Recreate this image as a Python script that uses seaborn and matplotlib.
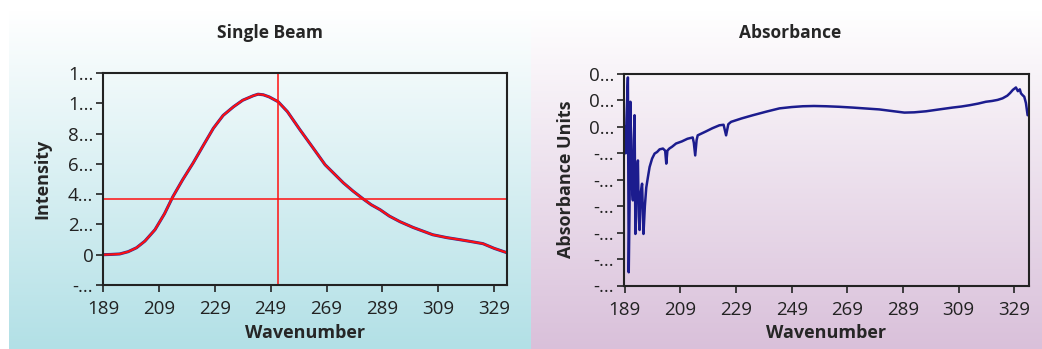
import numpy as np
import matplotlib
matplotlib.use("Agg")
import matplotlib.pyplot as plt
import seaborn as sns

# --- data ---
beam_x = [189, 192, 195, 198, 201, 204, 207.6, 211, 214, 217.5, 221.3, 225, 228.5,
          232, 235.7, 239, 242.8, 244.5, 246.4, 248.5, 251.7, 255, 259.5, 264,
          268.5, 272, 275, 278.5, 282, 285, 288.2, 291.5, 295.3, 300, 307, 312,
          316.8, 321, 325, 329, 333.6]
beam_y = [0, 20, 50, 200, 460, 900, 1650, 2700, 3830, 4950, 6070, 7250, 8350,
          9200, 9770, 10200, 10500, 10600, 10560, 10420, 10100, 9450, 8250, 7100,
          5940, 5300, 4750, 4200, 3700, 3300, 2970, 2550, 2180, 1800, 1320, 1130,
          990, 860, 730, 420, 130]

abs_x = [189.0, 189.3, 189.6, 190.1, 190.4, 190.7, 191.0, 191.4, 191.9, 192.2,
         192.5, 192.8, 193.2, 193.7, 194.0, 194.3, 194.7, 195.2, 195.7, 196.2,
         196.7, 197.3, 197.9, 198.8, 199.7, 200.6, 201.5, 202.7, 203.5, 203.9,
         204.3, 205.0, 206.0, 207.4, 209.5, 211.5, 213.4, 213.8, 214.3, 214.8,
         215.2, 218, 220.5, 223.0, 224.5, 225.4, 226.2, 227.2, 231, 235.0, 240,
         244.6, 249, 253.0, 257, 261.3, 266, 270.9, 275, 280.5, 285, 289.5, 293,
         297.3, 302, 306.8, 310, 313, 316, 318.8, 321, 323, 324.8, 326.5, 327.5,
         328.5, 329.6, 330.3, 331.0, 331.4, 332.0, 332.6, 333.2, 333.8]
abs_y = [0.000, -0.010, 0.003, 0.0187, -0.055, -0.030, 0.0095, -0.020, -0.0278, -0.005,
         0.0044, -0.0405, -0.020, -0.0127, -0.034, -0.039, -0.025, -0.0215, -0.0405, -0.030,
         -0.023, -0.019, -0.0152, -0.012, -0.0101, -0.0095, -0.0085, -0.0082, -0.0090, -0.0139,
         -0.0090, -0.0082, -0.0075, -0.0063, -0.0055, -0.0045, -0.0040, -0.0060, -0.0108, -0.0050,
         -0.0032, -0.0018, -0.0005, 0.0006, 0.0008, -0.0032, 0.0010, 0.0019, 0.0032, 0.0044, 0.0058,
         0.0070, 0.0075, 0.0078, 0.0079, 0.0078, 0.0076, 0.0073, 0.0070, 0.0066, 0.0060, 0.0054, 0.0055,
         0.0059, 0.0066, 0.0073, 0.0077, 0.0082, 0.0088, 0.0095, 0.0098, 0.0102, 0.0108, 0.0118, 0.0128,
         0.0140, 0.0149, 0.0135, 0.0142, 0.0127, 0.0120, 0.0114, 0.0090, 0.0044]

x_ticks = [189, 209, 229, 249, 269, 289, 309, 329]
beam_yticks = [-2000, 0, 2000, 4000, 6000, 8000, 10000, 12000]
beam_ylabels = ["-...", "0", "2...", "4...", "6...", "8...", "1...", "1..."]
abs_yticks = [-0.06, -0.05, -0.04, -0.03, -0.02, -0.01, 0.0, 0.01, 0.02]
abs_ylabels = ["-...", "-...", "-...", "-...", "-...", "-...", "0...", "0...", "0..."]
cursor_x = 251.6
cursor_y = 3700

# --- style ---
sns.set_style("ticks")
plt.rcParams['font.family'] = ['Open Sans', 'DejaVu Sans']
plt.rcParams['axes.edgecolor'] = '#222222'
plt.rcParams['xtick.color'] = '#222222'
plt.rcParams['ytick.color'] = '#222222'

W, H = 1042, 349
fig = plt.figure(figsize=(W / 100, H / 100), dpi=100)

# gradient backgrounds for the two panels
bg = np.ones((H, W, 3))
t = np.clip((np.arange(H) - 10) / (H - 10), 0, 1)[:, None]
teal = np.array([178, 224, 230]) / 255
pink = np.array([217, 192, 218]) / 255
left = 1 - t * (1 - teal)
right = 1 - t * (1 - pink)
bg[:, 9:531, :] = left[:, None, :].repeat(531 - 9, axis=1)
bg[:, 531:, :] = right[:, None, :].repeat(W - 531, axis=1)
bg[:10, :, :] = 1
bgax = fig.add_axes([0, 0, 1, 1], zorder=-10)
bgax.imshow(bg, aspect='auto', extent=[0, 1, 0, 1])
bgax.axis('off')


def panel(rect):
    ax = fig.add_axes(rect)
    ax.set_facecolor('none')
    for s in ax.spines.values():
        s.set_linewidth(1.5)
        s.set_visible(True)
    ax.tick_params(axis='both', length=5, width=1.2, labelsize=13.5)
    ax.tick_params(axis='x', pad=6)
    ax.tick_params(axis='y', pad=2)
    return ax


# left: Single Beam
ax1 = panel([103 / W, 1 - 285 / H, (507 - 103) / W, (285 - 73) / H])
sns.lineplot(x=beam_x, y=beam_y, ax=ax1, color='#2a2a9a', linewidth=2.2,
             estimator=None, sort=False)
sns.lineplot(x=beam_x, y=beam_y, ax=ax1, color='#ff1010', linewidth=1.5,
             estimator=None, sort=False)
ax1.axvline(cursor_x, color='#ff1010', linewidth=1.1)
ax1.axhline(cursor_y, color='#ff1010', linewidth=1.1)
ax1.set_xlim(189, 333.6)
ax1.set_ylim(-2000, 12000)
ax1.set_xticks(x_ticks)
ax1.set_yticks(beam_yticks)
ax1.set_yticklabels(beam_ylabels)
ax1.set_xlabel('Wavenumber', fontsize=13, fontweight='bold', labelpad=4)
ax1.set_ylabel('Intensity', fontsize=13, fontweight='bold', labelpad=12)
fig.text(270 / W, 1 - 33 / H, 'Single Beam', ha='center', va='center',
         fontsize=12.5, fontweight='bold')

# right: Absorbance
ax2 = panel([624 / W, 1 - 285.5 / H, (1029 - 624) / W, (285.5 - 74) / H])
sns.lineplot(x=abs_x, y=abs_y, ax=ax2, color='#1c1c8e', linewidth=1.8,
             estimator=None, sort=False)
ax2.set_xlim(188.7, 334.3)
ax2.set_ylim(-0.06, 0.02)
ax2.set_xticks(x_ticks)
ax2.set_yticks(abs_yticks)
ax2.set_yticklabels(abs_ylabels)
ax2.set_xlabel('Wavenumber', fontsize=13, fontweight='bold', labelpad=4)
ax2.set_ylabel('Absorbance Units', fontsize=13, fontweight='bold', labelpad=10)
fig.text(790 / W, 1 - 33 / H, 'Absorbance', ha='center', va='center',
         fontsize=12.5, fontweight='bold')

fig.savefig('out.png', dpi=100)
